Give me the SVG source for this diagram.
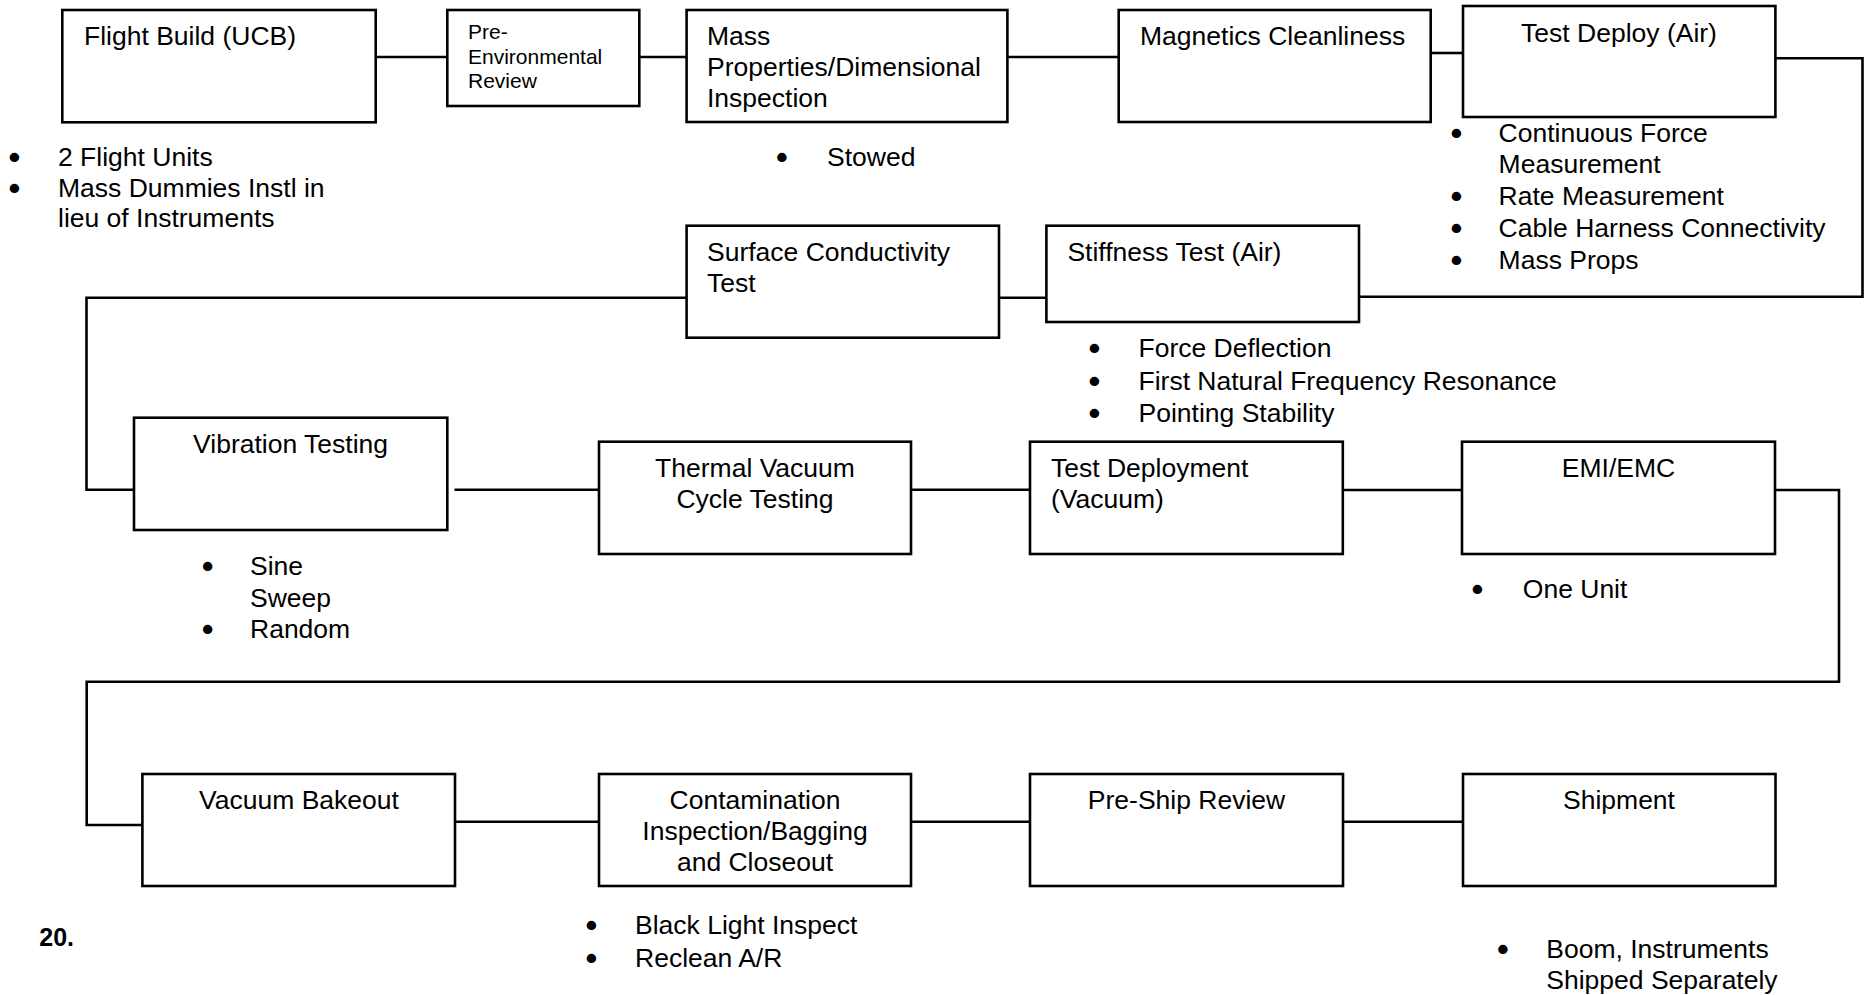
<svg xmlns="http://www.w3.org/2000/svg" width="1868" height="995" viewBox="0 0 1868 995">
<style>
.box{fill:#fff;stroke:#000;stroke-width:2.6}
.ln{fill:none;stroke:#000;stroke-width:2.6}
text{font-family:"Liberation Sans",Arial,sans-serif;font-size:26.5px;fill:#000}
.sm{font-size:21px}
.c{text-anchor:middle}
.b{font-weight:bold;font-size:25px}
.bu{text-anchor:middle;stroke:#000;stroke-width:2.2px}
</style>
<rect width="1868" height="995" fill="#fff"/>
<g id="connectors">
<line class="ln" x1="375" y1="57" x2="447" y2="57"/>
<line class="ln" x1="639" y1="57" x2="687" y2="57"/>
<line class="ln" x1="1008" y1="57" x2="1119" y2="57"/>
<line class="ln" x1="1431" y1="53" x2="1463" y2="53"/>
<polyline class="ln" points="1775,58.3 1862.5,58.3 1862.5,296.7 1359,296.7"/>
<line class="ln" x1="1046" y1="297.7" x2="999" y2="297.7"/>
<polyline class="ln" points="686,297.7 86.5,297.7 86.5,489.7 134,489.7"/>
<line class="ln" x1="454.5" y1="489.7" x2="599" y2="489.7"/>
<line class="ln" x1="911" y1="489.7" x2="1030" y2="489.7"/>
<line class="ln" x1="1343" y1="490" x2="1462" y2="490"/>
<polyline class="ln" points="1775,490 1839,490 1839,681.7 86.7,681.7 86.7,825 143,825"/>
<line class="ln" x1="455" y1="821.7" x2="599" y2="821.7"/>
<line class="ln" x1="911" y1="821.7" x2="1030" y2="821.7"/>
<line class="ln" x1="1343" y1="821.7" x2="1463" y2="821.7"/>
</g>
<g id="flight-build">
<rect class="box" x="62.3" y="10" width="313.4" height="112.3"/>
<text x="84" y="45">Flight Build (UCB)</text>
<text class="bu" x="14.5" y="165.7">•</text><text x="58" y="165.7">2 Flight Units</text>
<text class="bu" x="14.5" y="196.7">•</text><text x="58" y="196.7">Mass Dummies Instl in</text>
<text x="58" y="226.7">lieu of Instruments</text>
</g>
<g id="pre-environmental-review">
<rect class="box" x="447.3" y="10" width="192" height="96"/>
<text class="sm" x="468" y="39.3">Pre-</text>
<text class="sm" x="468" y="64">Environmental</text>
<text class="sm" x="468" y="88.3">Review</text>
</g>
<g id="mass-properties">
<rect class="box" x="686.6" y="10" width="320.8" height="112"/>
<text x="707" y="45">Mass</text>
<text x="707" y="76">Properties/Dimensional</text>
<text x="707" y="107">Inspection</text>
<text class="bu" x="782" y="165.7">•</text><text x="827" y="165.7">Stowed</text>
</g>
<g id="magnetics-cleanliness">
<rect class="box" x="1118.7" y="10" width="312" height="112"/>
<text x="1140" y="45">Magnetics Cleanliness</text>
</g>
<g id="test-deploy-air">
<rect class="box" x="1463" y="6" width="312.4" height="111"/>
<text class="c" x="1619" y="41.5">Test Deploy (Air)</text>
<text class="bu" x="1456.5" y="141.5">•</text><text x="1498.6" y="141.5">Continuous Force</text>
<text x="1498.6" y="173">Measurement</text>
<text class="bu" x="1456.5" y="205">•</text><text x="1498.6" y="205">Rate Measurement</text>
<text class="bu" x="1456.5" y="237">•</text><text x="1498.6" y="237">Cable Harness Connectivity</text>
<text class="bu" x="1456.5" y="269">•</text><text x="1498.6" y="269">Mass Props</text>
</g>
<g id="surface-conductivity-test">
<rect class="box" x="686.6" y="225.7" width="312.4" height="112"/>
<text x="707" y="261">Surface Conductivity</text>
<text x="707" y="292">Test</text>
</g>
<g id="stiffness-test-air">
<rect class="box" x="1046.4" y="225.7" width="312.6" height="96.3"/>
<text x="1067.4" y="261">Stiffness Test (Air)</text>
<text class="bu" x="1094.5" y="357">•</text><text x="1138.5" y="357">Force Deflection</text>
<text class="bu" x="1094.5" y="389.5">•</text><text x="1138.5" y="389.5">First Natural Frequency Resonance</text>
<text class="bu" x="1094.5" y="422">•</text><text x="1138.5" y="422">Pointing Stability</text>
</g>
<g id="vibration-testing">
<rect class="box" x="134" y="417.7" width="313.3" height="112.3"/>
<text class="c" x="290.6" y="452.7">Vibration Testing</text>
<text class="bu" x="207.7" y="575">•</text><text x="250" y="575">Sine</text>
<text x="250" y="606.5">Sweep</text>
<text class="bu" x="207.7" y="638">•</text><text x="250" y="638">Random</text>
</g>
<g id="thermal-vacuum-cycle-testing">
<rect class="box" x="599" y="441.7" width="312" height="112.3"/>
<text class="c" x="755" y="477">Thermal Vacuum</text>
<text class="c" x="755" y="508">Cycle Testing</text>
</g>
<g id="test-deployment-vacuum">
<rect class="box" x="1030" y="441.7" width="312.8" height="112.3"/>
<text x="1051" y="477">Test Deployment</text>
<text x="1051" y="508">(Vacuum)</text>
</g>
<g id="emi-emc">
<rect class="box" x="1462" y="441.7" width="313" height="112.3"/>
<text class="c" x="1618.5" y="477">EMI/EMC</text>
<text class="bu" x="1477.5" y="598">•</text><text x="1522.8" y="598">One Unit</text>
</g>
<g id="vacuum-bakeout">
<rect class="box" x="142.4" y="774" width="312.6" height="112"/>
<text class="c" x="299" y="809">Vacuum Bakeout</text>
</g>
<g id="contamination-inspection">
<rect class="box" x="599" y="774" width="312" height="112"/>
<text class="c" x="755" y="809">Contamination</text>
<text class="c" x="755" y="840">Inspection/Bagging</text>
<text class="c" x="755" y="871">and Closeout</text>
<text class="bu" x="591.5" y="934">•</text><text x="635" y="934">Black Light Inspect</text>
<text class="bu" x="591.5" y="966.5">•</text><text x="635" y="966.5">Reclean A/R</text>
</g>
<g id="pre-ship-review">
<rect class="box" x="1030" y="774" width="313" height="112"/>
<text class="c" x="1186.5" y="809">Pre-Ship Review</text>
</g>
<g id="shipment">
<rect class="box" x="1463" y="774" width="312.5" height="112"/>
<text class="c" x="1619" y="809">Shipment</text>
<text class="bu" x="1503" y="958">•</text><text x="1546.3" y="958">Boom, Instruments</text>
<text x="1546.3" y="988.5">Shipped Separately</text>
</g>
<text class="b" x="39.3" y="946">20.</text>
</svg>
